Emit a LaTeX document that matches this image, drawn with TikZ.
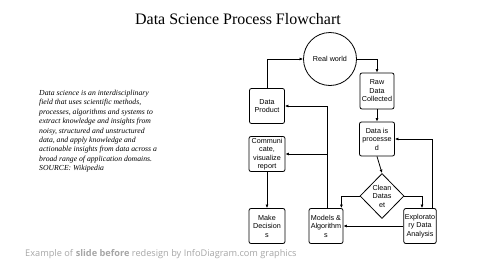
\documentclass[tikz,border=0pt]{standalone}
\usepackage{fontspec}
\setmainfont{Liberation Serif}
\setsansfont{Liberation Sans}
\newfontfamily\footfont{Open Sans}
\usetikzlibrary{positioning,arrows.meta,shapes.geometric,calc}
\definecolor{inkLine}{HTML}{000000}
\definecolor{footGray}{HTML}{A6A6A6}

\begin{document}
\begin{tikzpicture}[
  x=1pt, y=-1pt,
  every node/.style={text=black},
  box/.style={rounded corners=2pt, draw=inkLine, line width=0.8pt, align=center,
              fill=white, inner sep=1pt, minimum width=35pt, minimum height=35pt,
              font=\sffamily\fontsize{7.2}{8.5}\selectfont},
  world/.style={circle, draw=inkLine, line width=0.8pt, fill=white, minimum size=53pt,
                inner sep=0pt, font=\sffamily\fontsize{7.2}{8.5}\selectfont},
  check/.style={diamond, draw=inkLine, line width=0.8pt, fill=white, align=center,
                inner sep=0pt, minimum width=44pt, minimum height=45pt,
                font=\sffamily\fontsize{7.2}{8.5}\selectfont},
  flow/.style={-{Latex[length=3.5pt,width=3pt]}, line width=0.8pt, draw=inkLine},
  quote/.style={align=left, anchor=north west, inner sep=0pt,
                font=\itshape\fontsize{7.7}{9.4}\selectfont},
]
\useasboundingbox (0,0) rectangle (480,260);

% ---------------- TEXT ----------------
\node[font=\fontsize{16}{19}\selectfont] (TITLE) at (238,19) {Data Science Process Flowchart};
\node[quote] (QUOTE) at (39,90) {Data science is an interdisciplinary\\
  field that uses scientific methods,\\
  processes, algorithms and systems to\\
  extract knowledge and insights from\\
  noisy, structured and unstructured\\
  data, and apply knowledge and\\
  actionable insights from data across a\\
  broad range of application domains.\\
  SOURCE: Wikipedia};
\node[font=\footfont\fontsize{9.2}{11}\selectfont, text=footGray, anchor=west, inner sep=0pt]
  (FOOT) at (25,254) {Example of \textbf{slide before} redesign by InfoDiagram.com graphics};

% ---------------- NODES (absolute grid) ----------------
\node[world] (REAL) at (330,59) {Real world};
\node[box, minimum width=34pt, minimum height=36pt] (RAW) at (377,91) {Raw\\Data\\Collected};
\node[box, minimum height=34pt] (PROC) at (377,139) {Data is\\processe\\d};
\node[check] (CLEAN) at (382,196) {Clean\\Datas\\et};
\node[box, minimum width=32pt] (EDA) at (420,226) {Explorato\\ry Data\\Analysis};
\node[box, minimum width=34pt] (MODELS) at (326,226) {Models \&\\Algorithm\\s};
\node[box] (PRODUCT) at (267,106) {Data\\Product};
\node[box, minimum width=36pt] (COMM) at (267,154) {Communi\\cate,\\visualize\\report};
\node[box, minimum width=36pt] (DECIDE) at (267,226) {Make\\Decision\\s};

% ---------------- EDGES ----------------
\draw[flow] (PRODUCT.north) |- (REAL.west);
\draw[flow] (REAL.east) -| (RAW.north);
\draw[flow] (RAW) -- (PROC);
\draw[flow] (PROC.south) -- (CLEAN.north);
\draw[flow] (CLEAN.west) -| ([xshift=-2pt]MODELS.north east);
\draw[flow] (CLEAN.east) -| ([xshift=2pt]EDA.north);
\draw[flow] (EDA.west) -- (MODELS.east);
% exploration loops back to processing
\draw[flow] ([xshift=-4pt]EDA.north east) |- (PROC.east);
% models feed the product and the report
\draw[flow] ([xshift=1pt]MODELS.north) |- (PRODUCT.east);
\draw[flow] ([xshift=1pt]MODELS.north |- COMM.east) -- (COMM.east);
\draw[flow] (COMM) -- (DECIDE);
\end{tikzpicture}
\end{document}
